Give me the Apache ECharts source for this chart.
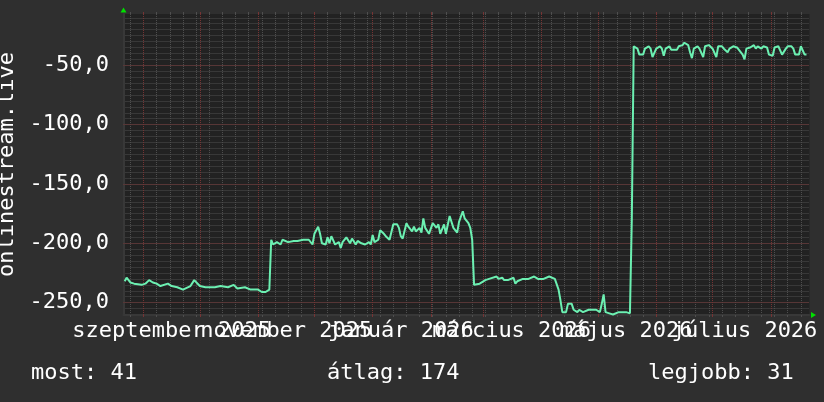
<!DOCTYPE html>
<html><head><meta charset="utf-8">
<script src="https://cdn.jsdelivr.net/npm/echarts@6/dist/echarts.min.js"></script>
<style>html,body{margin:0;padding:0;background:#2f2f2f;}#c{width:824px;height:402px;}</style>
</head><body><div id="c"></div>
<script>
// Day offsets from 2025-09-01 and the plotted (negated rank) values
const startDate = '2025-09-01';
const days = [
 -10,-9,-7,-5,-1,1,3,5,7,9,13,15,18,21,25,27,30,33,38,41,45,48,50,54,57,61,63,65,67,
 68,69,71,73,74,77,80,82,85,88,90,91,93,94,95,97,98,99,100,102,104,105,106,108,110,111,113,114,116,118,120,121,122,123,125,126,128,129,131,133,135,136,137,138,140,141,143,144,145,147,148,149,150,152,153,154,156,157,158,160,161,163,165,167,168,170,171,173,174,175,
 176,177,179,182,184,185,188,189,191,192,194,197,198,199,202,205,208,210,213,216,217,219,220,221,222,223,225,226,228,229,231,232,234,237,239,241,243,244,245,246,248,250,253,255,257,259,260,
 261,262,263,264,266,267,269,270,271,273,275,276,277,278,280,281,282,284,285,287,288,290,291,292,293,295,296,298,299,301,302,303,305,306,308,309,311,312,314,316,317,319,320,321,323,325,326,327,329,330,332,333,335,336,338,339,340,342,343,345,346,347,349,350,351,352,353
];
const values = [
 -232,-229,-233,-234,-235,-234,-231,-233,-234,-236,-234,-236,-237,-239,-236,-231,-236,-237,-237,-236,-237,-235,-238,-237,-239,-239,-241,-241,-239,
 -197,-201,-199,-201,-197,-199,-198,-198,-197,-197,-201,-192,-186,-192,-200,-201,-195,-200,-194,-201,-199,-204,-199,-195,-200,-196,-201,-198,-200,-201,-199,-201,-193,-199,-197,-189,-192,-194,-197,-184,-184,-187,-194,-196,-183,-186,-190,-186,-190,-187,-191,-179,-187,-192,-191,-183,-187,-184,-192,-184,-192,-177,-187,-191,-182,-173,-179,-183,-187,-197,
 -235,-234,-234,-231,-230,-230,-228,-230,-229,-231,-231,-229,-234,-232,-230,-230,-228,-230,-230,-228,-228,-230,-230,-239,-248,-258,-258,-251,-251,-256,-258,-256,-258,-256,-256,-256,-258,-251,-243,-258,-259,-260,-258,-258,-258,-259,-179,
 -34,-34,-36,-41,-41,-36,-34,-36,-43,-36,-34,-36,-42,-36,-34,-37,-36,-37,-34,-33,-31,-33,-39,-44,-36,-34,-36,-43,-34,-33,-32,-36,-43,-34,-34,-36,-39,-36,-34,-35,-36,-41,-45,-36,-35,-33,-36,-34,-36,-34,-35,-41,-42,-35,-34,-35,-41,-36,-34,-34,-36,-41,-41,-34,-34,-41,-41
];
const monthStarts = ['2025-09-01','2025-10-01','2025-11-01','2025-12-01','2026-01-01','2026-02-01','2026-03-01','2026-04-01','2026-05-01','2026-06-01','2026-07-01','2026-08-01'];
const labelDates = ['2025-09-16','2025-11-16','2026-01-16','2026-03-16','2026-05-16','2026-07-18'];
const labelTexts = ['szeptember 2025','november 2025','január 2026','március 2026','május 2026','július 2026'];
const yTicks = [-250,-200,-150,-100,-50];
const yName = 'onlinestream.live';
const legendTexts = ['most: 41','átlag: 174','legjobb: 31'];

const DAY = 86400000;
const t0 = Date.parse(startDate + 'T00:00:00Z');
const toDay = s => Math.round((Date.parse(s + 'T00:00:00Z') - t0) / DAY);
const monthDays = monthStarts.map(toDay);
const labelDays = labelDates.map(toDay);
const labelsA = labelDays.filter((d, i) => i % 2 === 0);
const labelsB = labelDays.filter((d, i) => i % 2 === 1);
const weekDays = [];
for (let d = -7; d <= 354; d += 7) weekDays.push(d);
const minorY = [];
for (let v = -260; v <= -10; v += 5) minorY.push(v);

const X_MIN = -10.65, X_MAX = 354.6, Y_MIN = -260.4, Y_MAX = -6.8;
const FONT = 'DejaVu Sans Mono';
const MINOR = '#4e4e4e', MAJOR = '#763434';
const minorStyle = {show: true, lineStyle: {color: MINOR, width: 1, type: [1, 1]}};
const majorStyle = {show: true, lineStyle: {color: MAJOR, width: 1, type: [1, 1]}};
const hidden = {show: false};
const xLabel = vals => ({show: true, customValues: vals, interval: 0, margin: 5, color: '#ffffff', fontFamily: FONT, fontSize: 22,
  showMinLabel: true, showMaxLabel: true, hideOverlap: false,
  formatter: v => labelTexts[labelDays.indexOf(v)] || ''});

const chart = echarts.init(document.getElementById('c'), null, {renderer: 'canvas'});
chart.setOption({
  backgroundColor: '#2f2f2f',
  animation: false,
  grid: {left: 123.5, right: 14.5, top: 14, bottom: 87, show: true, backgroundColor: '#222222', borderWidth: 0, outerBoundsMode: 'none'},
  xAxis: [
    {type: 'value', min: X_MIN, max: X_MAX, position: 'bottom', z: 1,
     axisLine: {show: true, onZero: false, symbol: ['none', 'triangle'], symbolSize: [6, 5], symbolOffset: [0, 4], lineStyle: {color: '#00e000', width: 0}},
     axisTick: {show: true, length: 2, customValues: monthDays, lineStyle: {color: MAJOR, width: 1}},
     splitLine: majorStyle,
     axisLabel: xLabel(labelsA)},
    {type: 'value', min: X_MIN, max: X_MAX, position: 'bottom', z: 0,
     axisLine: {show: true, onZero: false, lineStyle: {color: '#383838', width: 2}},
     axisTick: {show: true, length: 2, customValues: weekDays, lineStyle: {color: MINOR, width: 1}},
     splitLine: minorStyle,
     axisLabel: xLabel(labelsB)},
    {type: 'value', min: X_MIN, max: X_MAX, position: 'top', z: 0,
     axisLine: hidden,
     axisTick: {show: true, length: 2, customValues: weekDays, lineStyle: {color: MINOR, width: 1}},
     splitLine: hidden, axisLabel: hidden},
    {type: 'value', min: X_MIN, max: X_MAX, position: 'top', z: 1,
     axisLine: hidden,
     axisTick: {show: true, length: 2, customValues: monthDays, lineStyle: {color: MAJOR, width: 1}},
     splitLine: hidden, axisLabel: hidden}
  ],
  yAxis: [
    {type: 'value', min: Y_MIN, max: Y_MAX, position: 'left', z: 1,
     name: yName, nameLocation: 'middle', nameGap: 97,
     nameTextStyle: {color: '#ffffff', fontFamily: FONT, fontSize: 22},
     axisLine: {show: true, onZero: false, symbol: ['none', 'triangle'], symbolSize: [6, 5], symbolOffset: [0, 4], lineStyle: {color: '#00e000', width: 0}},
     axisTick: {show: false, customValues: yTicks},
     splitLine: majorStyle,
     axisLabel: {show: true, customValues: yTicks, margin: 14.5, color: '#ffffff', fontFamily: FONT, fontSize: 22,
       showMinLabel: true, showMaxLabel: true,
       formatter: v => v.toFixed(1).replace('.', ',')}},
    {type: 'value', min: Y_MIN, max: Y_MAX, position: 'left', z: 0,
     axisLine: {show: true, onZero: false, lineStyle: {color: '#383838', width: 2}},
     axisTick: {show: false, customValues: minorY},
     splitLine: minorStyle,
     axisLabel: hidden}
  ],
  series: [{
    type: 'line', xAxisIndex: 0, yAxisIndex: 0, showSymbol: false, z: 5,
    lineStyle: {color: '#6cf0b2', width: 2}, itemStyle: {color: '#6cf0b2'},
    data: days.map((d, i) => [d, values[i]])
  }],
  graphic: [
    {type: 'text', left: 31, top: 362, style: {text: legendTexts[0], fill: '#ffffff', font: '22px "DejaVu Sans Mono"'}},
    {type: 'text', left: 327, top: 362, style: {text: legendTexts[1], fill: '#ffffff', font: '22px "DejaVu Sans Mono"'}},
    {type: 'text', left: 648, top: 362, style: {text: legendTexts[2], fill: '#ffffff', font: '22px "DejaVu Sans Mono"'}}
  ]
});
</script></body></html>
